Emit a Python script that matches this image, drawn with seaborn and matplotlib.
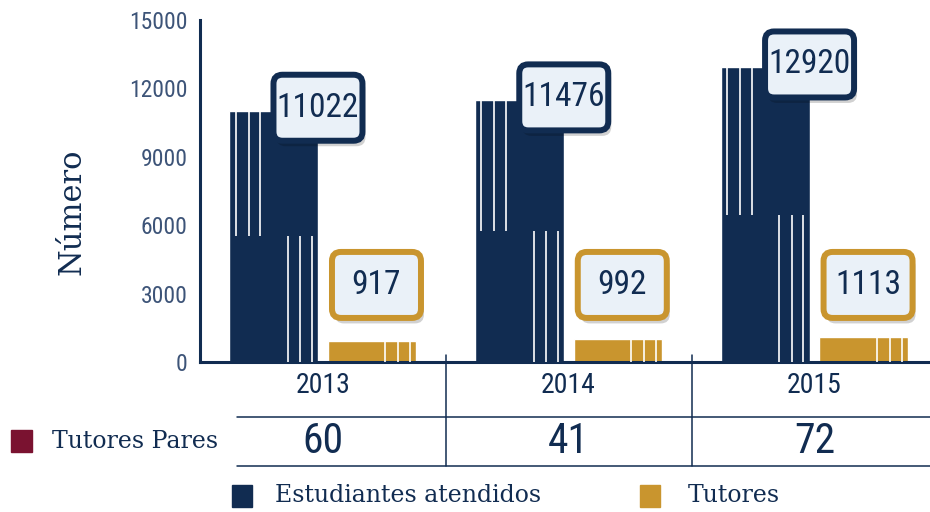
import numpy as np
import pandas as pd
import seaborn as sns
import matplotlib.pyplot as plt
import matplotlib.transforms as mtransforms
from matplotlib.patches import FancyBboxPatch, Rectangle
from matplotlib import font_manager

years = ['2013', '2014', '2015']
estudiantes = [11022, 11476, 12920]
tutores = [917, 992, 1113]
tutores_pares = [60, 41, 72]
series = ['Estudiantes atendidos', 'Tutores']
yticks = [0, 3000, 6000, 9000, 12000, 15000]

navy = '#112c51'
gold = '#c9952e'
maroon = '#7a1230'
boxfill = '#eaf1f8'
ticknavy = '#3d5478'

# condensed face for numbers, if one is installed
names = {f.name for f in font_manager.fontManager.ttflist}
narrow = next((n for n in ['Roboto Condensed', 'Liberation Sans Narrow',
                           'DejaVu Sans Condensed', 'Open Sans Condensed']
               if n in names), 'DejaVu Sans')
serif = 'DejaVu Serif'

sns.set_style('white')

df = pd.DataFrame({'year': years * 2,
                   'valor': estudiantes + tutores,
                   'serie': [series[0]] * 3 + [series[1]] * 3})

fig = plt.figure(figsize=(9.3, 5.12), dpi=100)
ax = fig.add_axes([200 / 930, 1 - 362 / 512, 730 / 930, 342 / 512])
sns.barplot(data=df, x='year', y='valor', hue='serie', palette=[navy, gold],
            width=0.8, gap=0.1, saturation=1, legend=False, ax=ax)

# white stripes on the bars
for i, cont in enumerate(ax.containers):
    for bar in cont:
        x0, w, h = bar.get_x(), bar.get_width(), bar.get_height()
        if i == 0:
            ax.vlines([x0 + f * w for f in (0.07, 0.215, 0.35)], h / 2, h, color='white', lw=1.2, zorder=3)
            ax.vlines([x0 + f * w for f in (0.66, 0.8, 0.93)], 0, h / 2, color='white', lw=1.2, zorder=3)
        else:
            ax.vlines([x0 + f * w for f in (0.65, 0.795, 0.93)], 0, h, color='white', lw=1.2, zorder=3)


def label_box(x, y, text, edge):
    tr = fig.dpi_scale_trans + mtransforms.ScaledTranslation(x, y, ax.transData)
    w, h = 0.89, 0.66
    style = 'round,pad=0,rounding_size=0.09'
    ax.add_patch(FancyBboxPatch((-w / 2 + 0.03, -h / 2 - 0.055), w, h, boxstyle=style,
                                transform=tr, fc='black', alpha=0.18, ec='none',
                                lw=4.3, zorder=4, clip_on=False))
    ax.add_patch(FancyBboxPatch((-w / 2, -h / 2), w, h, boxstyle=style, transform=tr,
                                fc=boxfill, ec=edge, lw=4.3, zorder=5, clip_on=False))
    ax.text(x, y, text, ha='center', va='center', fontsize=24, family=narrow,
            color=navy, zorder=6)


for bar, v in zip(ax.containers[0], estudiantes):
    label_box(bar.get_x() + bar.get_width(), v + 130, str(v), navy)
for bar, v in zip(ax.containers[1], tutores):
    label_box(bar.get_x() + bar.get_width() / 2 + 0.018, 3380, str(v), gold)

# table under the axis
xt = ax.get_xaxis_transform()
for yy in (-0.16, -0.304):
    ax.plot([-0.35, 2.47], [yy, yy], transform=xt, color=navy, lw=1.1, clip_on=False)
for xx in (0.5, 1.5):
    ax.plot([xx, xx], [0.02, -0.304], transform=xt, color=navy, lw=1.1, clip_on=False)
for i, v in enumerate(tutores_pares):
    ax.text(i, -0.232, str(v), transform=xt, ha='center', va='center',
            fontsize=30, family=narrow, color=navy)

ax.set_xlim(-0.5, 2.47)
ax.set_ylim(0, 15000)
ax.set_yticks(yticks)
ax.set_xlabel('')
ax.set_ylabel('')
ax.tick_params(axis='y', direction='in', length=13, width=1.1, color=navy,
               pad=9, labelsize=17, labelcolor=ticknavy)
ax.tick_params(axis='x', length=0, pad=7, labelsize=20, labelcolor=navy)
for lab in ax.get_yticklabels() + ax.get_xticklabels():
    lab.set_family(narrow)
sns.despine(ax=ax)
for s in ('left', 'bottom'):
    ax.spines[s].set_color(navy)
    ax.spines[s].set_linewidth(2.2)

fig.text(72 / 930, 1 - 212 / 512, 'Número', rotation=90, ha='center', va='center',
         fontsize=22, family=serif, color=navy)

# row label and legend
fig.add_artist(Rectangle((11 / 930, 1 - 452 / 512), 21 / 930, 22 / 512, color=maroon,
                         transform=fig.transFigure))
fig.text(52 / 930, 1 - 441 / 512, 'Tutores Pares', ha='left', va='center',
         fontsize=17, family=serif, color=navy)
for (x_sq, x_tx), lab, col in zip([(232, 275), (640, 688)], series, [navy, gold]):
    fig.add_artist(Rectangle((x_sq / 930, 1 - 507 / 512), 20 / 930, 22 / 512, color=col,
                             transform=fig.transFigure))
    fig.text(x_tx / 930, 1 - 496 / 512, lab, ha='left', va='center',
             fontsize=17, family=serif, color=navy)

fig.savefig('out.png', dpi=100)
